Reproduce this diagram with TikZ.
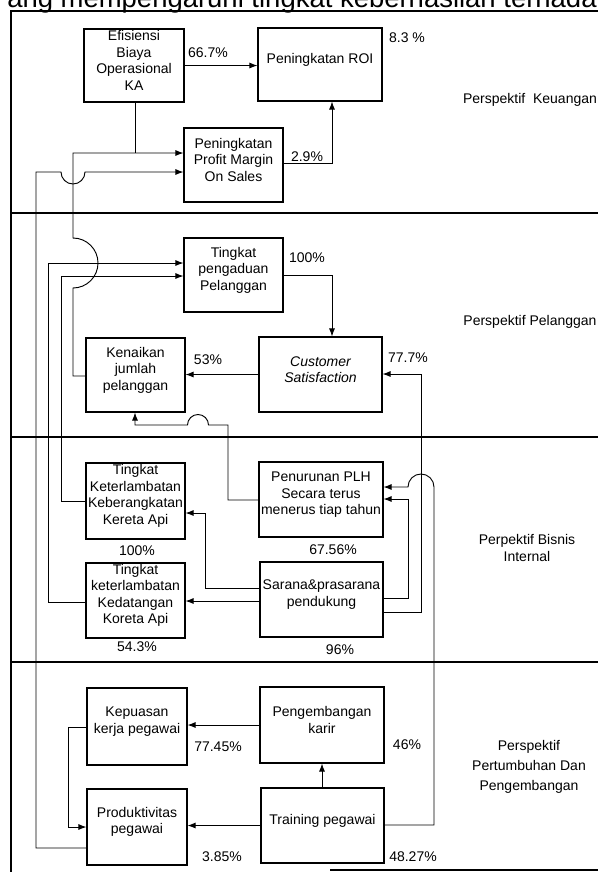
\documentclass[tikz,border=0pt]{standalone}
\usepackage{fontspec}
\setmainfont{Liberation Sans}
\usetikzlibrary{arrows.meta,fit}
\begin{document}
\begin{tikzpicture}[x=0.75pt,y=-0.75pt,
  box/.style={draw, line width=0.8pt, inner sep=0pt, align=center, font=\fontsize{10.5}{12.4}\selectfont},
  lbl/.style={inner sep=0pt, align=center, font=\fontsize{10.5}{12.4}\selectfont},
  conn/.style={line width=0.7pt},
  arr/.style={conn, -{Latex[length=6pt,width=4.5pt]}},
  framel/.style={line width=0.9pt}]
\useasboundingbox (0,0) rectangle (598,876);

% title (cut off at top, as in the reference)
\node[anchor=base west, inner sep=0pt, font=\fontsize{20.6}{24}\selectfont] (title) at (7,7) {ang mempengaruhi tingkat keberhasilan terhadap};

% frame and dividers
\draw[framel] (598,11) -- (11,11) -- (11,872);
\draw[framel] (11,213) -- (598,213);
\draw[framel] (11,437) -- (598,437);
\draw[framel] (11,662) -- (598,662);
\draw[framel] (330,870) -- (598,870);

% boxes
\node[box, fit={(84,29) (184,102)}] (eff) {Efisiensi\\Biaya\\Operasional\\KA};
\node[box, fit={(258,28) (382,101)}] (roi) {Peningkatan ROI};
\node[box, fit={(184,128) (283,202)}] (pm) {Peningkatan\\Profit Margin\\On Sales};
\node[box, fit={(184,238) (283,312)}] (tp) {Tingkat\\pengaduan\\Pelanggan};
\node[box, fit={(259,337) (382,412)}, font=\fontsize{10.5}{12.4}\selectfont\itshape] (cs) {Customer\\Satisfaction};
\node[box, fit={(86,338) (185,412)}] (kj) {Kenaikan\\jumlah\\pelanggan};
\node[box, fit={(86,463) (185,539)}] (kb) {Tingkat\\Keterlambatan\\Keberangkatan\\Kereta Api};
\node[box, fit={(86,563) (185,638)}] (kd) {Tingkat\\keterlambatan\\Kedatangan\\Koreta Api};
\node[box, fit={(259,462) (383,537)}] (plh) {Penurunan PLH\\Secara terus\\menerus tiap tahun};
\node[box, fit={(260,562) (383,637)}] (sar) {Sarana\&prasarana\\pendukung};
\node[box, fit={(87,688) (187,765)}] (kp) {Kepuasan\\kerja pegawai};
\node[box, fit={(87,789) (187,865)}] (pr) {Produktivitas\\pegawai};
\node[box, fit={(260,687) (384,763)}] (pk) {Pengembangan\\karir};
\node[box, fit={(261,788) (384,863)}] (tr) {Training pegawai};

% labels
\node[lbl] (l1) at (208,53) {66.7\%};
\node[lbl] (l2) at (407,38) {8.3 \%};
\node[lbl] (l3) at (307,157) {2.9\%};
\node[lbl] (l4) at (307,258) {100\%};
\node[lbl] (l5) at (408,358) {77.7\%};
\node[lbl] (l6) at (208,360) {53\%};
\node[lbl] (l7) at (137,551) {100\%};
\node[lbl] (l8) at (137,647) {54.3\%};
\node[lbl] (l9) at (333,550) {67.56\%};
\node[lbl] (l10) at (340,650) {96\%};
\node[lbl] (l11) at (218,747) {77.45\%};
\node[lbl] (l12) at (222,857) {3.85\%};
\node[lbl] (l13) at (407,745) {46\%};
\node[lbl] (l14) at (413,857) {48.27\%};

\node[lbl] (pers1) at (530,100) {Perspektif\ \ Keuangan};
\node[lbl] (pers2) at (530,322) {Perspektif Pelanggan};
\node[lbl] (pers3) at (527,548) {Perpektif Bisnis\\Internal};
\node[lbl, font=\fontsize{10.5}{15}\selectfont] (pers4) at (529,767) {Perspektif\\Pertumbuhan Dan\\Pengembangan};

% connectors
\draw[arr] (eff.east) -- (eff.east -| roi.west);

\coordinate (pmR) at (332,163);
\draw[arr] (pm.east |- pmR) -- (pmR) -- (roi.south -| pmR);

\coordinate (jA) at (135,153);
\draw[conn] (eff.south -| jA) -- (jA);

\coordinate (k1) at (73,376);
\coordinate (k2) at (73,153);
\draw[arr] (kj.west |- k1) -- (k1) -- (73,288)
  .. controls (86.8,288) and (98,276.8) .. (98,263)
  .. controls (98,249.2) and (86.8,238) .. (73,238)
  -- (k2) -- (pm.west |- k2);

\coordinate (p1) at (36,848);
\coordinate (p2) at (36,172);
\draw[arr] (pr.west |- p1) -- (p1) -- (p2) -- (61,172)
  .. controls (61,178.6) and (66.4,184) .. (73,184)
  .. controls (79.6,184) and (85,178.6) .. (85,172)
  -- (pm.west |- p2);

\coordinate (a1) at (48,602);
\coordinate (a2) at (48,263);
\draw[arr] (kd.west |- a1) -- (a1) -- (a2) -- (tp.west |- a2);

\coordinate (b1) at (61,501);
\coordinate (b2) at (61,276);
\draw[arr] (kb.west |- b1) -- (b1) -- (b2) -- (tp.west |- b2);

\coordinate (t1) at (332,275);
\draw[arr] (tp.east |- t1) -- (t1) -- (cs.north -| t1);

\draw[arr] (cs.west) -- (cs.west -| kj.east);

\coordinate (q1) at (228,500);
\coordinate (q2) at (228,425);
\coordinate (q3) at (135,425);
\draw[arr] (plh.west |- q1) -- (q1) -- (q2) -- (208.5,425)
  .. controls (208.5,419.2) and (203.8,414.5) .. (198,414.5)
  .. controls (192.2,414.5) and (187.5,419.2) .. (187.5,425)
  -- (q3) -- (kj.south -| q3);

\coordinate (s1) at (205,588);
\coordinate (s2) at (205,513);
\draw[arr] (sar.west |- s1) -- (s1) -- (s2) -- (kb.east |- s2);

\coordinate (s3) at (230,601);
\draw[arr] (sar.west |- s3) -- (kd.east |- s3);

\coordinate (r1) at (408,598);
\coordinate (r2) at (408,499);
\draw[arr] (sar.east |- r1) -- (r1) -- (r2) -- (plh.east |- r2);

\coordinate (r3) at (421,612);
\coordinate (r4) at (421,374);
\draw[arr] (sar.east |- r3) -- (r3) -- (r4) -- (cs.east |- r4);

\coordinate (u1) at (434,825);
\coordinate (u2) at (408,487);
\draw[arr] (tr.east |- u1) -- (u1) -- (434,487)
  .. controls (434,479.8) and (428.2,474) .. (421,474)
  .. controls (413.8,474) and (408,479.8) .. (u2)
  -- (plh.east |- u2);

\draw[arr] (pk.west) -- (pk.west -| kp.east);
\draw[arr] (tr.west) -- (tr.west -| pr.east);

\coordinate (v) at (322,800);
\draw[arr] (tr.north -| v) -- (pk.south -| v);

\coordinate (w1) at (68,727);
\coordinate (w2) at (68,827);
\draw[arr] (kp.west |- w1) -- (w1) -- (w2) -- (pr.west |- w2);
\end{tikzpicture}
\end{document}
